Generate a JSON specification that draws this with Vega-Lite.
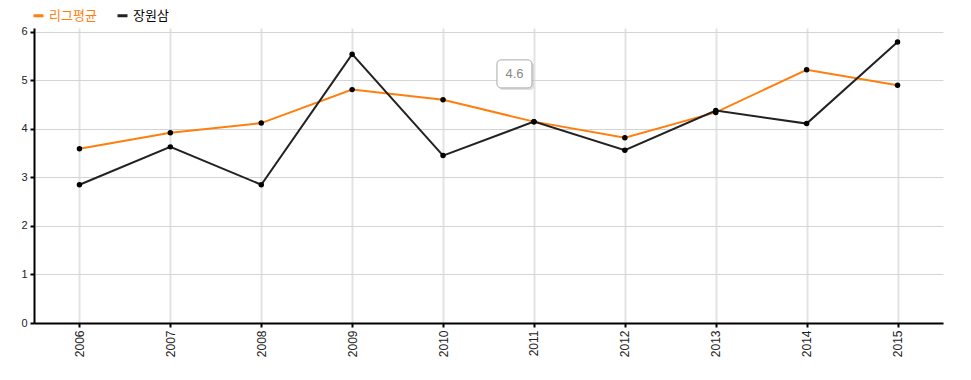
{
  "$schema": "https://vega.github.io/schema/vega-lite/v6.json",
  "width": 909,
  "height": 295,
  "autosize": {"type": "none"},
  "padding": {"left": 34, "top": 28, "right": 28, "bottom": 57},
  "background": "white",
  "config": {
    "font": "Liberation Sans, Noto Sans CJK KR, sans-serif",
    "view": {"stroke": null}
  },
  "datasets": {
    "main": [
      {"year": 2006, "series": "리그평균", "value": 3.59},
      {"year": 2007, "series": "리그평균", "value": 3.92},
      {"year": 2008, "series": "리그평균", "value": 4.12},
      {"year": 2009, "series": "리그평균", "value": 4.81},
      {"year": 2010, "series": "리그평균", "value": 4.6},
      {"year": 2011, "series": "리그평균", "value": 4.15},
      {"year": 2012, "series": "리그평균", "value": 3.82},
      {"year": 2013, "series": "리그평균", "value": 4.34},
      {"year": 2014, "series": "리그평균", "value": 5.22},
      {"year": 2015, "series": "리그평균", "value": 4.9},
      {"year": 2006, "series": "장원삼", "value": 2.85},
      {"year": 2007, "series": "장원삼", "value": 3.63},
      {"year": 2008, "series": "장원삼", "value": 2.85},
      {"year": 2009, "series": "장원삼", "value": 5.54},
      {"year": 2010, "series": "장원삼", "value": 3.45},
      {"year": 2011, "series": "장원삼", "value": 4.15},
      {"year": 2012, "series": "장원삼", "value": 3.56},
      {"year": 2013, "series": "장원삼", "value": 4.38},
      {"year": 2014, "series": "장원삼", "value": 4.11},
      {"year": 2015, "series": "장원삼", "value": 5.79}
    ],
    "tip": [
      {"x": 2010.593, "x2": 2010.978, "y": 5.423, "y2": 4.845, "xc": 2010.786, "yc": 5.134, "label": "4.6"}
    ]
  },
  "layer": [
    {
      "data": {"name": "main"},
      "mark": {"type": "line", "strokeWidth": 2},
      "encoding": {
        "x": {
          "field": "year", "type": "quantitative",
          "scale": {"domain": [2005.5, 2015.5], "nice": false, "zero": false},
          "axis": {
            "title": null, "values": [2006, 2007, 2008, 2009, 2010, 2011, 2012, 2013, 2014, 2015],
            "format": "d", "labelAngle": 270, "labelAlign": "right", "labelBaseline": "middle",
            "labelFontSize": 12, "labelColor": "#222", "labelPadding": 3,
            "grid": true, "gridColor": "#e3e3e3", "gridWidth": 2,
            "domainColor": "#000", "domainWidth": 2, "tickColor": "#000", "tickSize": 4, "tickWidth": 2
          }
        },
        "y": {
          "field": "value", "type": "quantitative",
          "scale": {"domain": [0, 6.08], "nice": false},
          "axis": {
            "title": null, "values": [0, 1, 2, 3, 4, 5, 6],
            "labelFontSize": 11, "labelColor": "#222", "labelPadding": 3,
            "grid": true, "gridColor": "#d4d4d4", "gridWidth": 1,
            "domainColor": "#000", "domainWidth": 2, "tickColor": "#000", "tickSize": 4, "tickWidth": 2
          }
        },
        "color": {
          "field": "series", "type": "nominal",
          "scale": {"domain": ["리그평균", "장원삼"], "range": ["#ff7f0e", "#222222"]},
          "legend": {
            "title": null, "orient": "none", "direction": "horizontal",
            "legendX": -2, "legendY": -19,
            "symbolType": "stroke", "symbolSize": 100, "symbolStrokeWidth": 3,
            "labelFontSize": 13, "labelOffset": 4, "columnPadding": 14,
            "encode": {
              "labels": {"update": {"fill": {"signal": "datum.label == '리그평균' ? '#ff7f0e' : '#000000'"}}}
            }
          }
        }
      }
    },
    {
      "data": {"name": "main"},
      "mark": {"type": "point", "filled": true, "color": "#000", "size": 30, "opacity": 1},
      "encoding": {
        "x": {"field": "year", "type": "quantitative"},
        "y": {"field": "value", "type": "quantitative"}
      }
    },
    {
      "data": {"name": "tip"},
      "mark": {"type": "rect", "fill": "#bbbbbb", "opacity": 0.5, "cornerRadius": 4, "xOffset": 2, "x2Offset": 2, "yOffset": 2, "y2Offset": 2},
      "encoding": {
        "x": {"field": "x", "type": "quantitative"},
        "x2": {"field": "x2"},
        "y": {"field": "y", "type": "quantitative"},
        "y2": {"field": "y2"}
      }
    },
    {
      "data": {"name": "tip"},
      "mark": {"type": "rect", "fill": "#ffffff", "stroke": "#aaaaaa", "strokeWidth": 1, "cornerRadius": 4},
      "encoding": {
        "x": {"field": "x", "type": "quantitative"},
        "x2": {"field": "x2"},
        "y": {"field": "y", "type": "quantitative"},
        "y2": {"field": "y2"}
      }
    },
    {
      "data": {"name": "tip"},
      "mark": {"type": "text", "color": "#888888", "fontSize": 13, "align": "center", "baseline": "middle"},
      "encoding": {
        "x": {"field": "xc", "type": "quantitative"},
        "y": {"field": "yc", "type": "quantitative"},
        "text": {"field": "label"}
      }
    }
  ]
}
